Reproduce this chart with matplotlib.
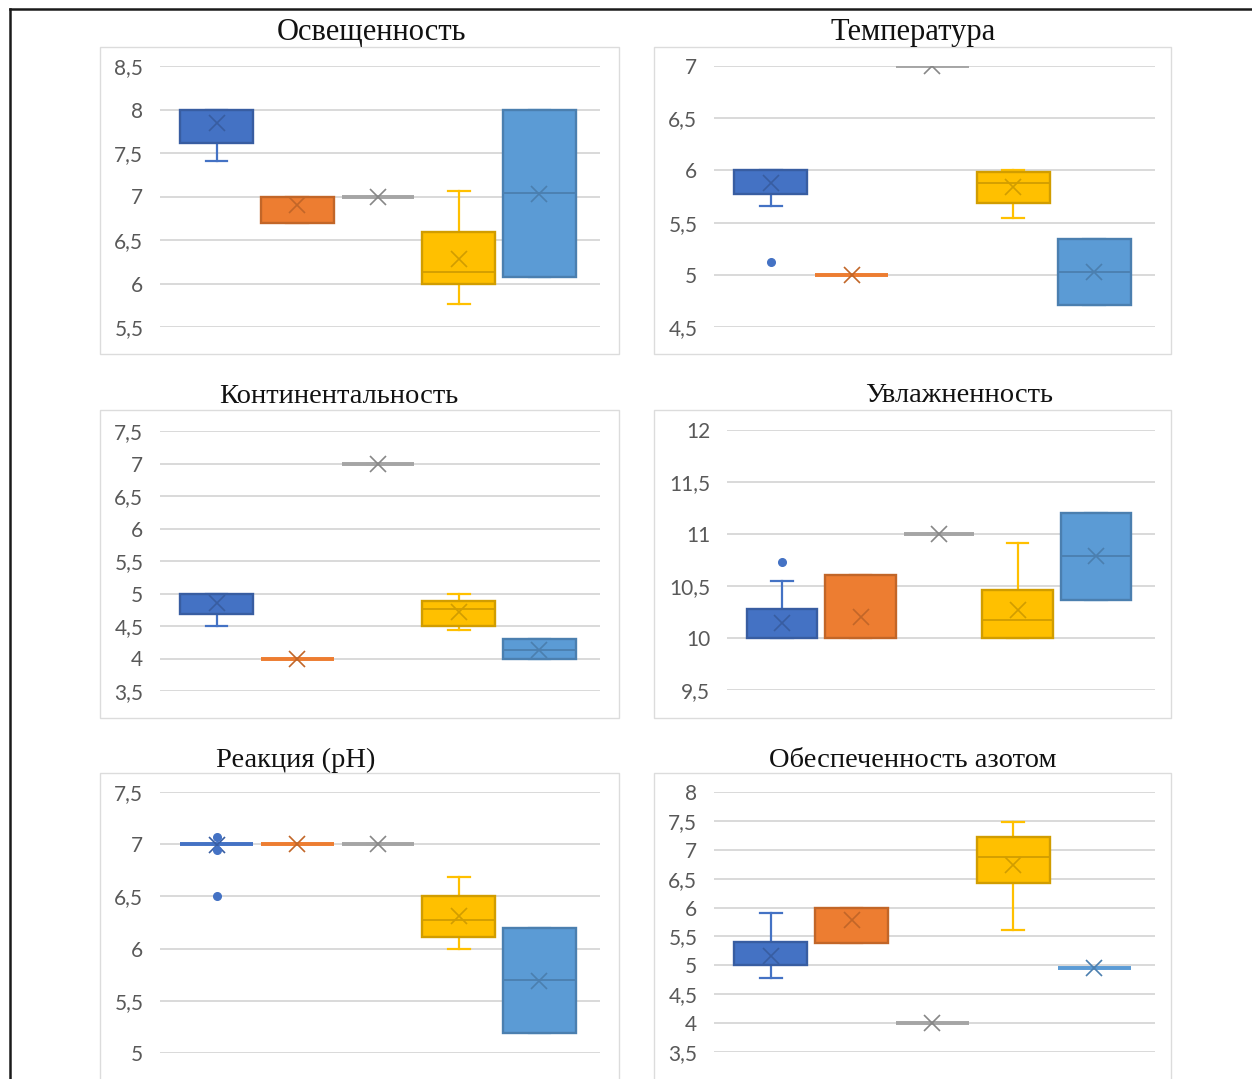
import matplotlib
matplotlib.use('Agg')
import matplotlib.pyplot as plt
from matplotlib.patches import Rectangle
from matplotlib.lines import Line2D
from matplotlib.ticker import FuncFormatter, MultipleLocator
import matplotlib.colors as mcolors

# ---------------- data ----------------
titles = ["Освещенность", "Температура", "Континентальность",
          "Увлажненность", "Реакция (pH)", "Обеспеченность азотом"]

series_colors = ['#4472C4', '#ED7D31', '#A5A5A5', '#FFC000', '#5B9BD5']

# Освещенность
osv_q1 = [7.62, 6.69, 7.0, 6.00, 6.07]
osv_med = [8.00, 7.00, 7.0, 6.13, 7.04]
osv_q3 = [8.00, 7.00, 7.0, 6.59, 8.00]
osv_lo = [7.41, 6.69, 7.0, 5.77, 6.07]
osv_hi = [8.00, 7.00, 7.0, 7.06, 8.00]
osv_mean = [7.85, 6.90, 7.0, 6.28, 7.03]
osv_out = [[], [], [], [], []]

# Температура
tem_q1 = [5.77, 5.0, 7.0, 5.69, 4.71]
tem_med = [6.00, 5.0, 7.0, 5.88, 5.03]
tem_q3 = [6.00, 5.0, 7.0, 5.98, 5.34]
tem_lo = [5.66, 5.0, 7.0, 5.54, 4.71]
tem_hi = [6.00, 5.0, 7.0, 6.00, 5.34]
tem_mean = [5.88, 5.0, 7.0, 5.84, 5.03]
tem_out = [[5.12], [], [], [], []]

# Континентальность
kon_q1 = [4.68, 4.0, 7.0, 4.50, 4.00]
kon_med = [5.00, 4.0, 7.0, 4.76, 4.13]
kon_q3 = [5.00, 4.0, 7.0, 4.89, 4.30]
kon_lo = [4.50, 4.0, 7.0, 4.44, 4.00]
kon_hi = [5.00, 4.0, 7.0, 5.00, 4.30]
kon_mean = [4.85, 4.0, 7.0, 4.72, 4.13]
kon_out = [[], [], [], [], []]

# Увлажненность
uvl_q1 = [10.00, 10.00, 11.0, 10.00, 10.37]
uvl_med = [10.00, 10.00, 11.0, 10.17, 10.79]
uvl_q3 = [10.28, 10.61, 11.0, 10.46, 11.20]
uvl_lo = [10.00, 10.00, 11.0, 10.00, 10.37]
uvl_hi = [10.55, 10.61, 11.0, 10.91, 11.20]
uvl_mean = [10.14, 10.20, 11.0, 10.27, 10.79]
uvl_out = [[10.73], [], [], [], []]

# Реакция (pH)
ph_q1 = [7.0, 7.0, 7.0, 6.11, 5.19]
ph_med = [7.0, 7.0, 7.0, 6.27, 5.70]
ph_q3 = [7.0, 7.0, 7.0, 6.50, 6.20]
ph_lo = [7.0, 7.0, 7.0, 6.00, 5.19]
ph_hi = [7.0, 7.0, 7.0, 6.69, 6.20]
ph_mean = [6.99, 7.0, 7.0, 6.31, 5.69]
ph_out = [[7.07, 6.94, 6.5], [], [], [], []]

# Обеспеченность азотом
az_q1 = [5.00, 5.39, 4.0, 6.42, 4.95]
az_med = [5.00, 6.00, 4.0, 6.88, 4.95]
az_q3 = [5.41, 6.00, 4.0, 7.22, 4.95]
az_lo = [4.78, 5.39, 4.0, 5.62, 4.95]
az_hi = [5.90, 6.00, 4.0, 7.48, 4.95]
az_mean = [5.17, 5.79, 4.0, 6.74, 4.95]
az_out = [[], [], [], [], []]

y_ranges = [(5.5, 8.5), (4.5, 7.0), (3.5, 7.5), (9.5, 12.0), (5.0, 7.5), (3.5, 8.0)]

panels = [
    (osv_q1, osv_med, osv_q3, osv_lo, osv_hi, osv_mean, osv_out),
    (tem_q1, tem_med, tem_q3, tem_lo, tem_hi, tem_mean, tem_out),
    (kon_q1, kon_med, kon_q3, kon_lo, kon_hi, kon_mean, kon_out),
    (uvl_q1, uvl_med, uvl_q3, uvl_lo, uvl_hi, uvl_mean, uvl_out),
    (ph_q1, ph_med, ph_q3, ph_lo, ph_hi, ph_mean, ph_out),
    (az_q1, az_med, az_q3, az_lo, az_hi, az_mean, az_out),
]

# ---------------- layout (pixels) ----------------
W, H = 1252, 1079
axes_px = [(160, 66, 600, 327), (714, 66, 1155, 327),
           (160, 431, 600, 691), (727, 430, 1155, 690),
           (160, 792, 600, 1053), (714, 792, 1155, 1052)]
frame_px = [(100, 47, 619, 354), (654, 47, 1171, 354),
            (100, 410, 619, 718), (654, 410, 1171, 718),
            (100, 773, 619, 1100), (654, 773, 1171, 1100)]
title_px = [(371, 40), (913, 40), (339, 403), (959, 402), (296, 767), (913, 767)]
title_sizes = [22, 22, 20.5, 20.5, 20.5, 20.5]


def darker(c, f=0.82):
    r, g, b = mcolors.to_rgb(c)
    return (r * f, g * f, b * f)


fig = plt.figure(figsize=(W / 100, H / 100), dpi=100)
fig.patch.set_facecolor('white')

# outer black frame (left and top)
fig.add_artist(Line2D([10 / W, 10 / W], [0, 1 - 9 / H], transform=fig.transFigure,
                      color='#1a1a1a', lw=1.8))
fig.add_artist(Line2D([10 / W, 1], [1 - 9 / H, 1 - 9 / H], transform=fig.transFigure,
                      color='#1a1a1a', lw=1.8))

fmt = FuncFormatter(lambda v, p: f"{v:g}".replace('.', ','))

for i, (data, (x0, y0, x1, y1)) in enumerate(zip(panels, axes_px)):
    fx0, fy0, fx1, fy1 = frame_px[i]
    fig.add_artist(Rectangle((fx0 / W, 1 - fy1 / H), (fx1 - fx0) / W, (fy1 - fy0) / H,
                             transform=fig.transFigure, fill=False,
                             edgecolor='#dcdcdc', lw=1.0))
    ax = fig.add_axes([x0 / W, 1 - y1 / H, (x1 - x0) / W, (y1 - y0) / H])
    q1, med, q3, lo, hi, mean, out = data
    stats = []
    for k in range(5):
        stats.append(dict(q1=q1[k], med=med[k], q3=q3[k], whislo=lo[k],
                          whishi=hi[k], mean=mean[k], fliers=out[k]))
    res = ax.bxp(stats, positions=range(5), widths=0.9, capwidths=0.27,
                 showmeans=True, patch_artist=True, manage_ticks=False)
    for k, c in enumerate(series_colors):
        dc = darker(c)
        flat = q1[k] == q3[k]
        box = res['boxes'][k]
        box.set_facecolor(c)
        box.set_edgecolor(dc if not flat else c)
        box.set_linewidth(1.7 if not flat else 2.6)
        box.set_zorder(3)
        res['medians'][k].set_color(dc if not flat else c)
        res['medians'][k].set_linewidth(1.3 if not flat else 2.6)
        res['medians'][k].set_zorder(4)
        for w in res['whiskers'][2 * k:2 * k + 2] + res['caps'][2 * k:2 * k + 2]:
            w.set_color(c)
            w.set_linewidth(1.6)
            w.set_zorder(2)
        m = res['means'][k]
        m.set_marker('x')
        m.set_markersize(11.5)
        m.set_markeredgewidth(1.2)
        m.set_markeredgecolor(dc)
        m.set_markerfacecolor(dc)
        m.set_zorder(5)
        f = res['fliers'][k]
        f.set_marker('o')
        f.set_markersize(5.5)
        f.set_markerfacecolor(c)
        f.set_markeredgecolor(c)
        f.set_zorder(5)

    lo_y, hi_y = y_ranges[i]
    ax.set_ylim(lo_y, hi_y)
    ax.set_xlim(-0.70, 4.75)
    ax.yaxis.set_major_locator(MultipleLocator(0.5))
    ax.yaxis.set_major_formatter(fmt)
    ax.grid(axis='y', color='#d9d9d9', lw=1.4, zorder=0)
    ax.set_axisbelow(True)
    ax.set_xticks([])
    for s in ax.spines.values():
        s.set_visible(False)
    ax.tick_params(axis='y', length=0, pad=12, labelsize=15, labelcolor='#595959')
    for lab in ax.get_yticklabels():
        lab.set_family('Lato')
    ax.patch.set_alpha(0)

    tx, ty = title_px[i]
    fig.text(tx / W, 1 - ty / H, titles[i], ha='center', va='baseline',
             family='Liberation Serif', fontsize=title_sizes[i], color='#111111')

fig.savefig('out.png', dpi=100, facecolor='white')
